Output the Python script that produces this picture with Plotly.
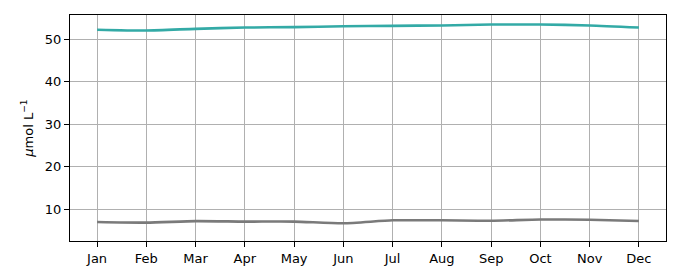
import plotly.graph_objects as go

months = ["Jan", "Feb", "Mar", "Apr", "May", "Jun", "Jul", "Aug", "Sep", "Oct", "Nov", "Dec"]
teal_vals = [52.2, 52.0, 52.4, 52.7, 52.8, 53.0, 53.1, 53.2, 53.4, 53.4, 53.2, 52.7]
gray_vals = [7.0, 6.85, 7.2, 7.1, 7.1, 6.7, 7.4, 7.4, 7.3, 7.6, 7.55, 7.25]
y_ticks = [10, 20, 30, 40, 50]

x = list(range(len(months)))

fig = go.Figure()
fig.add_trace(go.Scatter(x=x, y=teal_vals, mode="lines", line=dict(color="#33aaa6", width=2.6, shape="spline", smoothing=0.6), showlegend=False))
fig.add_trace(go.Scatter(x=x, y=gray_vals, mode="lines", line=dict(color="#7a7a7a", width=2.6, shape="spline", smoothing=0.6), showlegend=False))

axis_common = dict(
    showline=True, linecolor="black", linewidth=1, mirror=True,
    ticks="outside", ticklen=5, tickwidth=1, tickcolor="black",
    showgrid=True, gridcolor="#b0b0b0", gridwidth=1, zeroline=False,
    tickfont=dict(family="DejaVu Sans", size=13, color="black"),
)

fig.update_layout(
    width=680, height=280,
    margin=dict(l=70, r=14, t=15, b=39),
    paper_bgcolor="white", plot_bgcolor="white",
    xaxis=dict(range=[-0.55, 11.55], tickmode="array", tickvals=x, ticktext=months, **axis_common),
    yaxis=dict(range=[2.54, 55.65], tickmode="array", tickvals=y_ticks,
               title=dict(text="<i>μ</i>mol L<sup>−1</sup>", font=dict(family="DejaVu Sans", size=13, color="black"), standoff=8),
               **axis_common),
)

fig.write_html("out.html")
